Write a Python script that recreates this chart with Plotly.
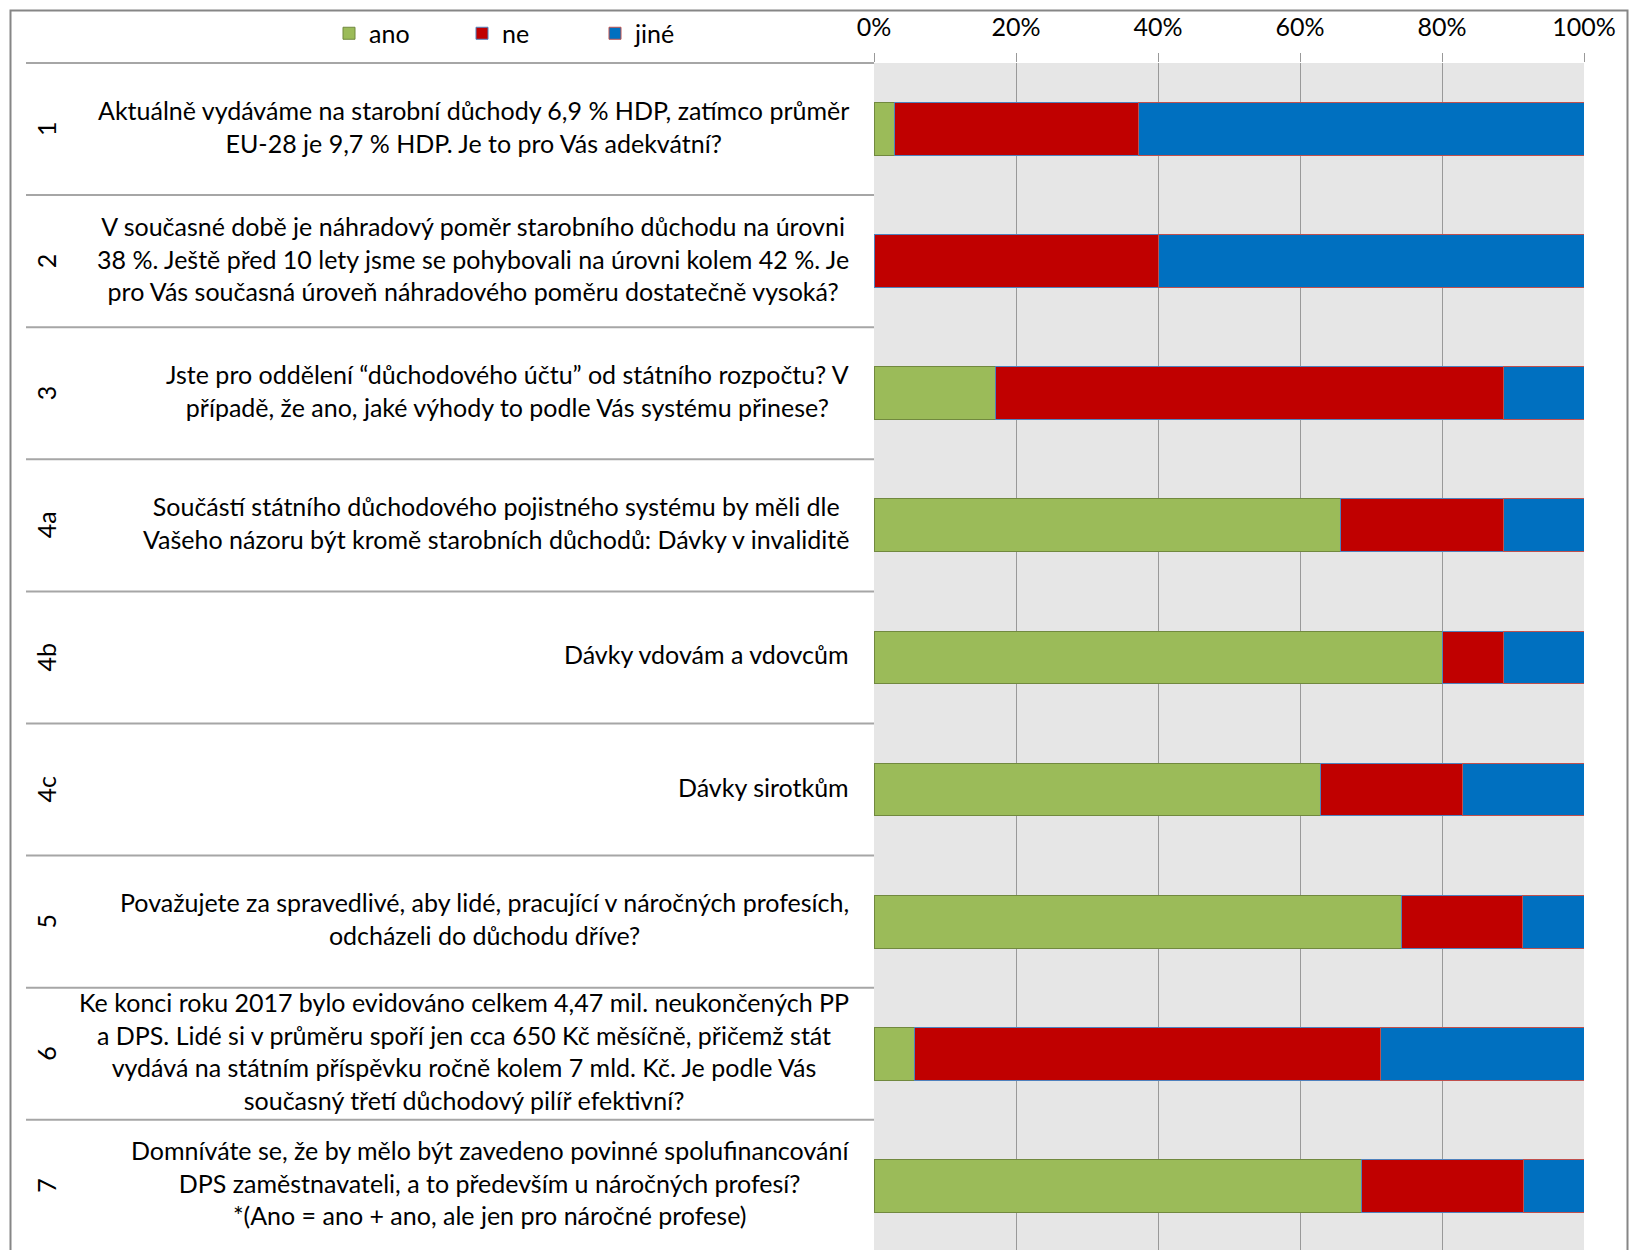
import plotly.graph_objects as go

# ---------------- data ----------------
row_ids = ["1", "2", "3", "4a", "4b", "4c", "5", "6", "7"]
questions = [
    "Aktuálně vydáváme na starobní důchody 6,9 % HDP, zatímco průměr<br>EU-28 je 9,7 % HDP. Je to pro Vás adekvátní?",
    "V současné době je náhradový poměr starobního důchodu na úrovni<br>38 %. Ještě před 10 lety jsme se pohybovali na úrovni kolem 42 %. Je<br>pro Vás současná úroveň náhradového poměru dostatečně vysoká?",
    "Jste pro oddělení “důchodového účtu” od státního rozpočtu? V<br>případě, že ano, jaké výhody to podle Vás systému přinese?",
    "Součástí státního důchodového pojistného systému by měli dle<br>Vašeho názoru být kromě starobních důchodů: Dávky v invaliditě",
    "Dávky vdovám a vdovcům",
    "Dávky sirotkům",
    "Považujete za spravedlivé, aby lidé, pracující v náročných profesích,<br>odcházeli do důchodu dříve?",
    "Ke konci roku 2017 bylo evidováno celkem 4,47 mil. neukončených PP<br>a DPS. Lidé si v průměru spoří jen cca 650 Kč měsíčně, přičemž stát<br>vydává na státním příspěvku ročně kolem 7 mld. Kč. Je podle Vás<br>současný třetí důchodový pilíř efektivní?",
    "Domníváte se, že by mělo být zavedeno povinné spolufinancování<br>DPS zaměstnavateli, a to především u náročných profesí?<br>*(Ano = ano + ano, ale jen pro náročné profese)",
]
ano = [2.9, 0.0, 17.1, 65.7, 80.0, 62.9, 74.3, 5.7, 68.6]
ne = [34.3, 40.0, 71.5, 22.9, 8.6, 20.0, 17.1, 65.7, 22.9]
jine = [62.8, 60.0, 11.4, 11.4, 11.4, 17.1, 8.6, 28.6, 8.5]
series_names = ["ano", "ne", "jiné"]
tick_vals = [0, 20, 40, 60, 80, 100]
tick_text = ["0%", "20%", "40%", "60%", "80%", "100%"]

# ---------------- style / layout ----------------
OFF = 8  # page body margin offset
W, H = 1639 - OFF, 1250 - OFF
ML, MR, MT, MB = 874 - OFF, 55, 63 - OFF, 0
PW, PH = W - ML - MR, H - MT - MB
Y_TOP, Y_BOT = -0.5, 8.486
FONT = "Lato, Carlito, Calibri, Roboto, sans-serif"
FS = 25

def px_to_xpaper(px):
    return (px - OFF - ML) / PW

def px_to_ypaper(py):
    return 1 - (py - OFF - MT) / PH

def val_to_ypaper(v):
    return (Y_BOT - v) / (Y_BOT - Y_TOP)

colors = ["#9BBB59", "#C00000", "#0070C0"]
edges = ["#71893F", "#4F81BD", "#C0504D"]

fig = go.Figure()
for name, vals, c, e in zip(series_names, [ano, ne, jine], colors, edges):
    fig.add_trace(go.Bar(
        name=name, y=row_ids, x=vals, orientation="h",
        marker=dict(color=c, line=dict(color=e, width=1)),
        hoverinfo="skip",
    ))

shapes = []
# row separators in the label area
for k in range(len(row_ids)):
    yp = val_to_ypaper(k - 0.5)
    shapes.append(dict(type="line", xref="paper", yref="paper",
                       x0=px_to_xpaper(26), x1=0, y0=yp, y1=yp,
                       line=dict(color="#A6A6A6", width=2)))
# outer border
shapes.append(dict(type="rect", xref="paper", yref="paper",
                   x0=px_to_xpaper(10.5), x1=px_to_xpaper(1627.5),
                   y0=-0.05, y1=px_to_ypaper(10.5),
                   line=dict(color="#868686", width=2), fillcolor="rgba(0,0,0,0)"))

annotations = []
for i, (rid, q) in enumerate(zip(row_ids, questions)):
    annotations.append(dict(xref="paper", yref="y", x=px_to_xpaper(851), y=i,
                            xanchor="right", yanchor="middle", align="center",
                            text=q, showarrow=False, yshift=3,
                            font=dict(family=FONT, size=FS, color="#000000")))
    annotations.append(dict(xref="paper", yref="y", x=px_to_xpaper(46), y=i,
                            xanchor="center", yanchor="middle", textangle=-90,
                            text=rid, showarrow=False,
                            font=dict(family=FONT, size=FS, color="#000000")))

fig.update_layout(
    width=W, height=H,
    margin=dict(l=ML, r=MR, t=MT, b=MB, pad=0),
    barmode="stack", bargap=0.6,
    paper_bgcolor="white", plot_bgcolor="#E6E6E6",
    font=dict(family=FONT, size=FS, color="#000000"),
    showlegend=True,
    legend=dict(orientation="h", x=px_to_xpaper(329), xanchor="left",
                y=px_to_ypaper(33.5), yanchor="middle",
                traceorder="normal", entrywidth=88, entrywidthmode="pixels",
                font=dict(family=FONT, size=FS, color="#000000"),
                bgcolor="rgba(0,0,0,0)"),
    xaxis=dict(side="top", range=[0, 100], tickvals=tick_vals, ticktext=tick_text,
               showgrid=True, gridcolor="#999999", gridwidth=1,
               ticks="outside", ticklen=9, tickcolor="#999999",
               ticklabelstandoff=7,
               zeroline=False, showline=False, fixedrange=True,
               tickfont=dict(family=FONT, size=FS, color="#000000")),
    yaxis=dict(type="category", categoryorder="array", categoryarray=row_ids,
               range=[Y_BOT, Y_TOP], showticklabels=False, showgrid=False,
               zeroline=False, showline=False, ticks="", fixedrange=True),
    shapes=shapes, annotations=annotations,
)

fig.write_html("out.html")
